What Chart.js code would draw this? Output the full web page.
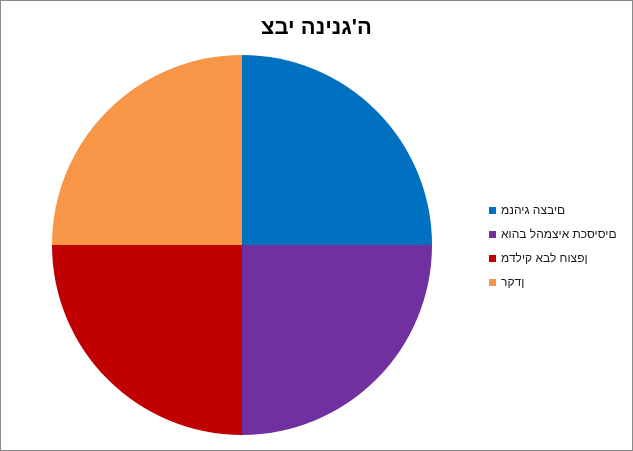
<!DOCTYPE html>
<html>
<head>
<meta charset="utf-8">
<script src="https://cdn.jsdelivr.net/npm/chart.js@4"></script>
<style>
  html, body { margin: 0; padding: 0; background: #fff; }
  #marco {
    width: 633px; height: 451px; box-sizing: border-box;
    border: 1px solid #8a8a8a; position: relative;
    font-family: "Liberation Sans", Arial, sans-serif;
  }
  #titulo {
    position: absolute; left: 0; right: 0; top: 13px;
    text-align: center; font-size: 22px; font-weight: bold; color: #000;
    line-height: 26px;
  }
  /* el original muestra las letras en orden lógico de izquierda a derecha */
  .orden { direction: ltr; unicode-bidi: bidi-override; display: inline-block; }
  #leyenda {
    position: absolute; left: 488px; top: 200px; margin: 0; padding: 0;
    list-style: none; font-size: 12px; color: #1a1a1a;
  }
  #leyenda li { height: 24px; line-height: 18px; white-space: nowrap; }
  #leyenda .caja {
    display: inline-block; width: 7px; height: 7px; margin-right: 5px;
    vertical-align: 0px;
  }
  canvas { position: absolute; left: 0; top: 0; }
</style>
</head>
<body>
<div id="marco">
  <canvas id="pieChart"></canvas>
  <div id="titulo"><span class="orden" id="tituloTexto"></span></div>
  <ul id="leyenda"></ul>
</div>
<script>
// Datos del gráfico
const titulo = "צבי הנינג'ה";
const categorias = ['מנהיג הצבים', 'אוהב להמציא תכסיסים', 'מדליק אבל חוצפן', 'רקדן'];
const valores = [25, 25, 25, 25];
const colores = ['#0070C0', '#7030A0', '#C00000', '#F79646'];

document.getElementById('tituloTexto').textContent = titulo;

// Leyenda en HTML a partir de las etiquetas de Chart.js
const leyendaHtml = {
    id: 'leyendaHtml',
    afterUpdate(chart) {
        const ul = document.getElementById('leyenda');
        ul.innerHTML = '';
        const items = chart.options.plugins.legend.labels.generateLabels(chart);
        items.forEach(item => {
            const li = document.createElement('li');
            const caja = document.createElement('span');
            caja.className = 'caja';
            caja.style.background = item.fillStyle;
            const texto = document.createElement('span');
            texto.className = 'orden';
            texto.textContent = item.text;
            li.appendChild(caja);
            li.appendChild(texto);
            ul.appendChild(li);
        });
    }
};

const ctxPie = document.getElementById('pieChart').getContext('2d');
new Chart(ctxPie, {
    type: 'pie',
    data: {
        labels: categorias,
        datasets: [{
            data: valores,
            backgroundColor: colores,
            borderWidth: 0
        }]
    },
    options: {
        responsive: true,
        maintainAspectRatio: false,
        animation: false,
        layout: {
            padding: { top: 54, bottom: 15, left: 51, right: 200 }
        },
        plugins: {
            title: { display: false },
            legend: { display: false },
            tooltip: { enabled: false }
        }
    },
    plugins: [leyendaHtml]
});
</script>
</body>
</html>
